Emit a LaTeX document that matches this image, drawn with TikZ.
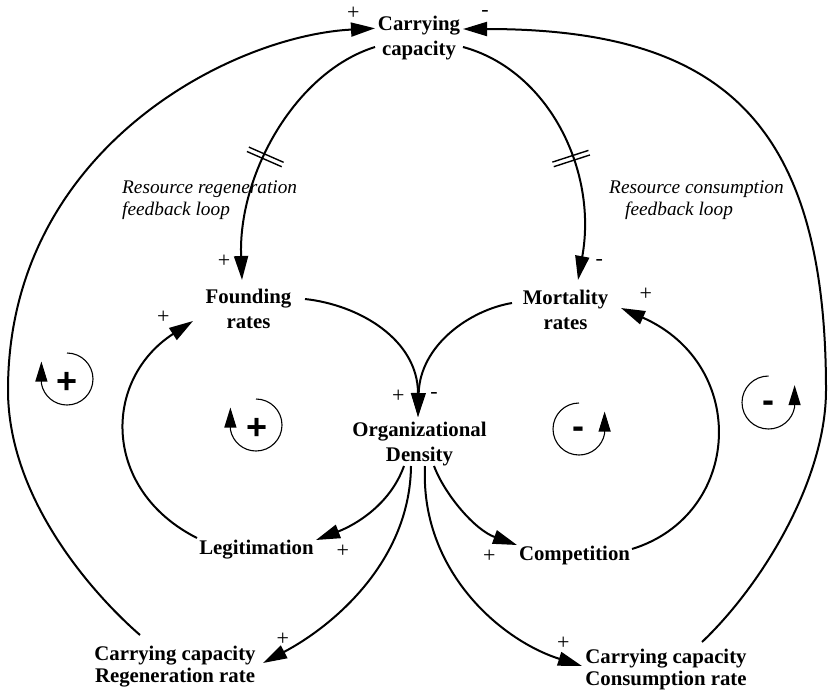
\documentclass[tikz,border=0pt]{standalone}
\usepackage{fontspec}
\setmainfont{Liberation Serif}
\setsansfont{Liberation Sans}
\usetikzlibrary{arrows.meta,decorations.markings}
\newcommand{\twol}[2]{\begin{tabular}[t]{@{}c@{}}#1\\#2\end{tabular}}
\begin{document}
\begin{tikzpicture}[x=1pt,y=-1pt,
  nd/.style={inner sep=0pt, outer sep=0pt, anchor=base, font={\fontsize{20.8}{25}\selectfont\bfseries}},
  ndb/.style={nd, font={\fontsize{20.8}{22.5}\selectfont\bfseries}},
  sgn/.style={inner sep=0pt, font={\fontsize{22}{22}\selectfont}},
  lsg/.style={inner sep=0pt, font={\fontsize{36}{36}\selectfont\sffamily\bfseries}},
  lab/.style={inner sep=0pt, anchor=base west, font={\fontsize{19.3}{22}\selectfont\itshape}},
  link/.style={line width=2pt, -{Triangle[length=24pt,width=14pt]}},
  loopln/.style={line width=1.1pt, -{Triangle[length=20pt,width=12pt]}},
  delay/.style={postaction={decorate, decoration={markings, mark=at position #1 with {\draw[-, line width=1.4pt] (-2.4pt,-19pt) -- (-2.4pt,19pt) (2.4pt,-19pt) -- (2.4pt,19pt);}}}}
]
\fill[white] (0,0) rectangle (829,694);
\useasboundingbox (0,0) rectangle (829,694);

% nodes
\node[nd] (cc) at (419,30.5) {\twol{Carrying}{capacity}};
\node[nd] (fr) at (248.5,303.5) {\twol{Founding}{rates}};
\node[nd] (mr) at (565.5,304) {\twol{Mortality}{rates}};
\node[nd] (od) at (419.5,436) {\twol{Organizational}{Density}};
\node[nd] (lg) at (256.5,554) {Legitimation};
\node[nd] (cp) at (574.5,560) {Competition};
\node[ndb] (rg) at (175,660) {\twol{Carrying capacity}{Regeneration rate}};
\node[ndb] (cs) at (666,663) {\twol{Carrying capacity}{Consumption rate}};

% italic labels
\node[lab] (t1) at (122,193) {\begin{tabular}[t]{@{}l@{}}Resource regeneration\\feedback loop\end{tabular}};
\node[lab] (t2) at (609,193) {\begin{tabular}[t]{@{}l@{}}Resource consumption\\\hspace*{16pt}feedback loop\end{tabular}};

% connectors
\draw[link, delay=160pt] ([shift={(-44,16.5)}]cc.base) .. controls (295,72) and (238,175) .. ([shift={(-6.5,-23.5)}]fr.base);
\draw[link, delay=162pt] ([shift={(44,16.5)}]cc.base) .. controls (548,70) and (598,170) .. ([shift={(12.5,-24)}]mr.base);
\draw[link] ([shift={(56.5,-4.5)}]fr.base) .. controls (360,305) and (418,340) .. ([shift={(-1.5,-19)}]od.base);
\draw[link] ([shift={(-53.5,-1)}]mr.base) .. controls (470,310) and (420,345) .. ([shift={(-1.5,-19)}]od.base);
\draw[link] ([shift={(-15.5,30)}]od.base) .. controls (390,505) and (355,525) .. ([shift={(59.5,-14)}]lg.base);
\draw[link] ([shift={(-59.5,-16)}]lg.base) .. controls (102,490) and (102,380) .. ([shift={(-55.5,17.5)}]fr.base);
\draw[link] ([shift={(14.5,30)}]od.base) .. controls (445,495) and (475,530) .. ([shift={(-57.5,-15)}]cp.base);
\draw[link] ([shift={(57.5,-11)}]cp.base) .. controls (742,515) and (750,365) .. ([shift={(55.5,4)}]mr.base);
\draw[link] ([shift={(-8.5,30)}]od.base) .. controls (410,560) and (335,625) .. ([shift={(88,3)}]rg.base);
\draw[link] ([shift={(5.5,30)}]od.base) .. controls (420,570) and (500,640) .. ([shift={(-84,3)}]cs.base);
\draw[link] ([shift={(-35,-25)}]rg.base) .. controls (95,596) and (8,500) .. (8,390) .. controls (8,150) and (230,36) .. ([shift={(-44,-2.2)}]cc.base);
\draw[link] ([shift={(36,-21)}]cs.base) .. controls (762,585) and (826,480) .. (826,390) .. controls (826,120) and (720,29) .. ([shift={(44,-1.5)}]cc.base);

% polarity signs
\node[sgn] (s1) at (353.3,13.5) {+};
\node[sgn] (s2) at (485,13.5) {-};
\node[sgn] (s3) at (224,261) {+};
\node[sgn] (s4) at (163.3,317.3) {+};
\node[sgn] (s5) at (599.3,262.7) {-};
\node[sgn] (s6) at (645.7,294) {+};
\node[sgn] (s7) at (398.3,396) {+};
\node[sgn] (s8) at (434,395) {-};
\node[sgn] (s9) at (342.7,551.7) {+};
\node[sgn] (s10) at (489.3,556.7) {+};
\node[sgn] (s11) at (282.7,639.3) {+};
\node[sgn] (s12) at (563.3,643.3) {+};

% loop symbols
\draw[loopln] (67,353) arc[start angle=90,end angle=-170,radius=26pt] -- ++(0,-22);
\node[lsg] (l1) at (67,383) {+};
\draw[loopln] (256,399) arc[start angle=90,end angle=-170,radius=26pt] -- ++(0,-22);
\node[lsg] (l2) at (257,429) {+};
\draw[loopln] (579,403) arc[start angle=90,end angle=350,radius=26pt] -- ++(0,-22);
\node[lsg] (l3) at (578,433) {-};
\draw[loopln] (768.5,376) arc[start angle=90,end angle=350,radius=26.5pt] -- ++(0,-22);
\node[lsg] (l4) at (768,407) {-};
\end{tikzpicture}
\end{document}
